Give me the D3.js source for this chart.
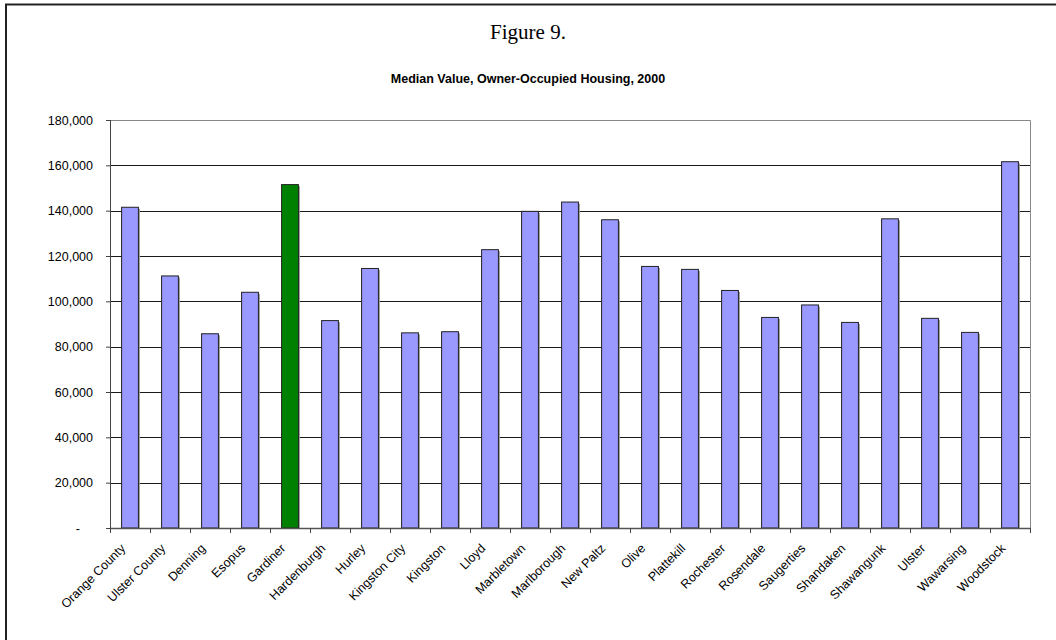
<!DOCTYPE html>
<meta charset="utf-8">
<head>
<script src="https://d3js.org/d3.v7.min.js"></script>
<style>
  body { margin: 0; background: #fff; }
  svg { display: block; }
</style>
</head>
<body>
<div id="my_dataviz"></div>
<script>

// data
var places = ["Orange County", "Ulster County", "Denning", "Esopus", "Gardiner", "Hardenburgh",
  "Hurley", "Kingston City", "Kingston", "Lloyd", "Marbletown", "Marlborough", "New Paltz",
  "Olive", "Plattekill", "Rochester", "Rosendale", "Saugerties", "Shandaken", "Shawangunk",
  "Ulster", "Wawarsing", "Woodstock"];
var medianValues = [141500, 111200, 85700, 104000, 151500, 91500,
  114500, 86100, 86600, 122800, 139700, 143800, 136000,
  115400, 114100, 104800, 92900, 98400, 90700, 136400,
  92500, 86300, 161600];
var highlighted = ["Gardiner"];
var yTicks = [0, 20000, 40000, 60000, 80000, 100000, 120000, 140000, 160000, 180000];

var W = 1056, H = 640;
var margin = {top: 120, right: 26, bottom: 112, left: 110},
    width = W - margin.left - margin.right,
    height = H - margin.top - margin.bottom;

var root = d3.select("#my_dataviz")
  .append("svg")
    .attr("width", W)
    .attr("height", H);

// outer frame (top and left edges visible)
root.append("line")
  .attr("x1", 5).attr("x2", W).attr("y1", 4.5).attr("y2", 4.5)
  .attr("stroke", "#222").attr("stroke-width", 2);
root.append("line")
  .attr("x1", 6).attr("x2", 6).attr("y1", 4).attr("y2", H)
  .attr("stroke", "#222").attr("stroke-width", 2);

// titles
root.append("text")
  .attr("x", W / 2).attr("y", 39)
  .attr("text-anchor", "middle")
  .style("font-family", "'Liberation Serif', 'Times New Roman', serif")
  .style("font-size", "21px")
  .text("Figure 9.");

root.append("text")
  .attr("x", W / 2).attr("y", 83)
  .attr("text-anchor", "middle")
  .style("font-family", "'Liberation Sans', Arial, sans-serif")
  .style("font-size", "12.5px")
  .style("font-weight", "bold")
  .text("Median Value, Owner-Occupied Housing, 2000");

var svg = root.append("g")
  .attr("transform", "translate(" + margin.left + "," + margin.top + ")");

var x = d3.scaleBand()
  .domain(places)
  .range([0, width])
  .paddingInner(0.58)
  .paddingOuter(0.29);

var y = d3.scaleLinear()
  .domain([0, 180000])
  .range([height, 0]);

// gridlines
svg.append("g")
  .selectAll("line")
  .data(yTicks.filter(function(d) { return d > 0 && d < 180000; }))
  .enter().append("line")
    .attr("x1", 0).attr("x2", width)
    .attr("y1", function(d) { return Math.round(y(d)) + 0.5; })
    .attr("y2", function(d) { return Math.round(y(d)) + 0.5; })
    .attr("stroke", "#1a1a1a");

// plot area top / right border
svg.append("path")
  .attr("d", "M0," + (Math.round(y(180000)) + 0.5) + "H" + (width + 0.5) + "V" + height)
  .attr("fill", "none")
  .attr("stroke", "#888");

// bars: shadow then bar
svg.append("g")
  .selectAll("rect")
  .data(places)
  .enter().append("rect")
    .attr("x", function(d) { return x(d) + 1.5; })
    .attr("y", function(d, i) { return y(medianValues[i]) + 1.5; })
    .attr("width", x.bandwidth())
    .attr("height", function(d, i) { return height - y(medianValues[i]) - 1.5; })
    .attr("fill", "#9a9a9a");

svg.append("g")
  .selectAll("rect")
  .data(places)
  .enter().append("rect")
    .attr("x", function(d) { return x(d); })
    .attr("y", function(d, i) { return y(medianValues[i]); })
    .attr("width", x.bandwidth())
    .attr("height", function(d, i) { return height - y(medianValues[i]); })
    .attr("fill", function(d) { return highlighted.indexOf(d) >= 0 ? "#008000" : "#9999ff"; })
    .attr("stroke", "#222")
    .attr("stroke-width", 1);

// Y axis
var yAxis = svg.append("g")
  .call(d3.axisLeft(y)
    .tickValues(yTicks)
    .tickSize(4)
    .tickFormat(function(d) { return d === 0 ? "-" : d3.format(",")(d); }));
yAxis.select(".domain").attr("stroke", "#444").attr("d", "M0.5," + height + "V0");
yAxis.selectAll(".tick line").attr("stroke", "#444");
yAxis.selectAll("text")
  .style("font-family", "'Liberation Sans', Arial, sans-serif")
  .style("font-size", "12.5px")
  .attr("fill", "#000")
  .attr("x", -17)
  .attr("dx", function(d) { return d === 0 ? -13 : 0; });

// X axis: ticks at category boundaries
var xAxis = svg.append("g")
  .attr("transform", "translate(0," + height + ")");
xAxis.append("line")
  .attr("x1", 0).attr("x2", width + 1)
  .attr("y1", 0.5).attr("y2", 0.5)
  .attr("stroke", "#555").attr("stroke-width", 1.5);
xAxis.selectAll(".xtick")
  .data(d3.range(places.length + 1))
  .enter().append("line")
    .attr("class", "xtick")
    .attr("x1", function(i) { return Math.round(i * width / places.length) + 0.5; })
    .attr("x2", function(i) { return Math.round(i * width / places.length) + 0.5; })
    .attr("y1", 0).attr("y2", 5)
    .attr("stroke", "#444");

xAxis.selectAll(".xlabel")
  .data(places)
  .enter().append("text")
    .attr("class", "xlabel")
    .attr("transform", function(d) {
      return "translate(" + (x(d) + x.bandwidth() / 2 - 7) + ",18) rotate(-45)";
    })
    .attr("text-anchor", "end")
    .attr("dy", "0.35em")
    .style("font-family", "'Liberation Sans', Arial, sans-serif")
    .style("font-size", "12.5px")
    .text(function(d) { return d; });

</script>
</body>
